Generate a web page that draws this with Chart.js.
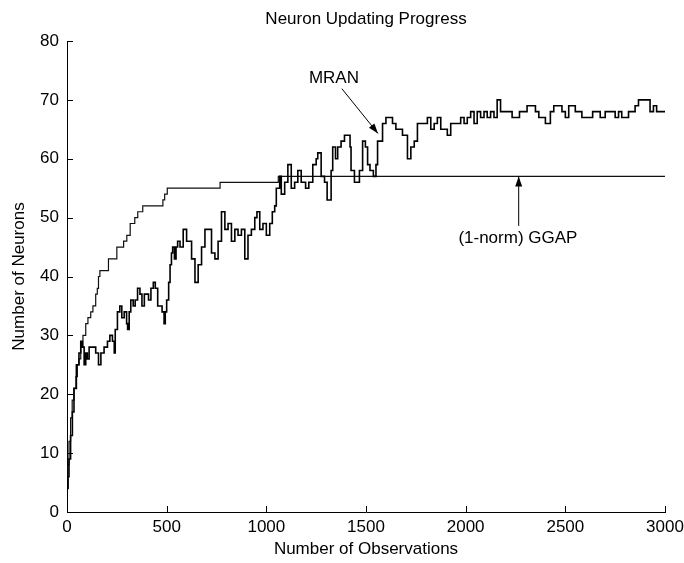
<!DOCTYPE html>
<html><head><meta charset="utf-8">
<script src="https://cdn.jsdelivr.net/npm/chart.js@4.4.1/dist/chart.umd.min.js"></script>
<style>html,body{margin:0;padding:0;background:#fff;}#wrap{width:684px;height:563px;}</style>
</head><body><div id="wrap"><canvas id="c" width="684" height="563"></canvas></div>
<script>
const chartTitle = "Neuron Updating Progress";
const xTitle = "Number of Observations";
const yTitle = "Number of Neurons";
const seriesNames = ["MRAN", "(1-norm) GGAP"];

const ggapX = [0,5,10,18,26,35,45,52,60,69,80,94,105,119,130,144,152,158,165,208,250,284,300,317,340,355,380,481,490,503,768,1060,3000];
const ggapY = [4,8,12,16,19,21,23,25,26,28,30,32,33,34,35,37,38,40,41,43,45,46,47,49,50,51,52,53,54,55,56,57,57];

const mranX = [0,5,10,18,27,35,47,60,69,77,86,94,102,111,128,144,158,170,186,203,215,228,237,242,253,265,275,287,299,304,312,320,332,342,354,366,376,388,399,409,421,433,443,455,466,477,487,493,500,510,517,524,530,539,547,555,567,583,600,625,642,658,675,692,708,725,742,758,775,792,808,825,842,858,875,892,908,925,942,953,967,983,1000,1017,1030,1042,1050,1067,1075,1092,1108,1125,1142,1158,1175,1197,1213,1233,1250,1258,1275,1292,1305,1325,1333,1347,1358,1375,1392,1408,1420,1425,1442,1453,1467,1483,1497,1508,1520,1537,1550,1558,1583,1600,1617,1633,1650,1667,1683,1700,1708,1725,1742,1758,1775,1792,1808,1825,1842,1858,1875,1892,1908,1925,1942,1958,1975,1992,2008,2025,2042,2058,2075,2092,2108,2125,2142,2158,2175,2192,2208,2233,2267,2270,2308,2317,2325,2350,2367,2383,2400,2413,2425,2442,2467,2483,2500,2517,2533,2550,2567,2583,2600,2617,2637,2658,2675,2700,2725,2750,2767,2783,2797,2817,2833,2850,2867,2875,2892,2908,2925,2942,2958,2975,3000];
const mranY = [4,6,9,13,17,21,25,27,29,28,25,27,26,28,28,27,25,27,28,29,30,29,27,31,34,35,33,34,32,31,34,36,35,36,38,37,35,37,37,36,38,39,38,35,35,34,32,34,36,39,42,44,45,43,45,46,45,48,46,43,39,42,45,48,48,44,43,46,51,48,49,46,48,47,48,43,47,48,50,51,48,49,47,49,51,52,55,57,54,56,59,55,56,58,56,55,56,59,60,61,57,56,53,58,62,60,62,63,64,64,62,58,56,56,58,63,62,59,58,57,59,63,66,67,67,66,65,65,64,64,60,62,63,66,66,66,67,65,66,67,65,65,64,66,66,66,67,66,67,68,66,68,67,68,67,68,67,70,68,68,68,67,67,68,69,69,69,68,67,67,66,66,68,69,69,68,67,69,69,68,68,67,67,67,68,68,67,68,68,67,68,67,67,68,68,69,70,70,70,70,68,69,68,68,68];

const xMin = 0, xMax = 3000, xStep = 500;
const yMin = 0, yMax = 80, yStep = 10;

// annotation anchors in data units
const mranLabelAt = [1339, 73.6];
const mranArrowFrom = [1379, 71.9];
const mranArrowTo = [1560, 64.3];
const ggapLabelAt = [2262, 46.5];
const ggapArrowFrom = [2266, 48.6];
const ggapArrowTo = [2266, 57];

const FONT = "'Liberation Sans', Arial, sans-serif";
const FS = 17;

function pts(xs, ys){ return xs.map((x,i)=>({x:x, y:ys[i]})); }

function arrow(ctx, x1, y1, x2, y2){
  ctx.beginPath(); ctx.moveTo(x1,y1); ctx.lineTo(x2,y2); ctx.stroke();
  const a = Math.atan2(y2-y1, x2-x1), L = 10, W = 3.5;
  const bx = x2 - L*Math.cos(a), by = y2 - L*Math.sin(a);
  ctx.beginPath();
  ctx.moveTo(x2,y2);
  ctx.lineTo(bx + W*Math.sin(a), by - W*Math.cos(a));
  ctx.lineTo(bx - W*Math.sin(a), by + W*Math.cos(a));
  ctx.closePath(); ctx.fill();
}

const extras = {
  id: 'extras',
  afterDraw(chart){
    const ctx = chart.ctx, xs = chart.scales.x, ys = chart.scales.y, ca = chart.chartArea;
    ctx.save();
    ctx.strokeStyle = '#000'; ctx.fillStyle = '#000'; ctx.lineWidth = 1;
    xs.ticks.forEach(t=>{ const p = Math.round(xs.getPixelForValue(t.value))+0.5;
      ctx.beginPath(); ctx.moveTo(p, ca.bottom); ctx.lineTo(p, ca.bottom-6); ctx.stroke(); });
    ys.ticks.forEach(t=>{ const p = Math.round(ys.getPixelForValue(t.value))+0.5;
      ctx.beginPath(); ctx.moveTo(ca.left, p); ctx.lineTo(ca.left+6, p); ctx.stroke(); });
    ctx.font = FS + 'px ' + FONT; ctx.textAlign = 'center'; ctx.textBaseline = 'middle';
    ctx.fillText(chartTitle, (ca.left+ca.right)/2, 19);
    ctx.fillText(seriesNames[0], xs.getPixelForValue(mranLabelAt[0]), ys.getPixelForValue(mranLabelAt[1]));
    ctx.fillText(seriesNames[1], xs.getPixelForValue(ggapLabelAt[0]), ys.getPixelForValue(ggapLabelAt[1]));
    arrow(ctx, xs.getPixelForValue(mranArrowFrom[0]), ys.getPixelForValue(mranArrowFrom[1]),
               xs.getPixelForValue(mranArrowTo[0]), ys.getPixelForValue(mranArrowTo[1]));
    arrow(ctx, xs.getPixelForValue(ggapArrowFrom[0]), ys.getPixelForValue(ggapArrowFrom[1]),
               xs.getPixelForValue(ggapArrowTo[0]), ys.getPixelForValue(ggapArrowTo[1]));
    ctx.restore();
  }
};

new Chart(document.getElementById('c'), {
  type: 'scatter',
  data: { datasets: [
    { label: seriesNames[0], data: pts(mranX, mranY), showLine: true, stepped: true,
      borderColor: '#000', borderWidth: 1.6, pointRadius: 0, fill: false },
    { label: seriesNames[1], data: pts(ggapX, ggapY), showLine: true, stepped: true,
      borderColor: '#111', borderWidth: 1.2, pointRadius: 0, fill: false }
  ]},
  options: {
    responsive: false, animation: false, devicePixelRatio: 1,
    layout: { padding: { top: 41, right: 19, left: 0, bottom: 0 } },
    plugins: { legend: { display: false }, tooltip: { enabled: false }, title: { display: false } },
    scales: {
      x: { type: 'linear', min: xMin, max: xMax,
        afterFit(s){ s.height = 51; s.paddingLeft = 0; s.paddingRight = 0; },
        ticks: { stepSize: xStep, color: '#000', padding: 5, maxRotation: 0,
          callback: v => String(v), font: { family: FONT, size: FS } },
        grid: { display: true, drawOnChartArea: false, drawTicks: false },
        border: { display: true, color: '#000', width: 1 },
        title: { display: true, text: xTitle, color: '#000', padding: { top: 0, bottom: 3 }, font: { family: FONT, size: FS } } },
      y: { type: 'linear', min: yMin, max: yMax,
        afterFit(s){ s.width = 67; s.paddingTop = 0; s.paddingBottom = 0; },
        ticks: { stepSize: yStep, color: '#000', padding: 8, font: { family: FONT, size: FS } },
        grid: { display: true, drawOnChartArea: false, drawTicks: false },
        border: { display: true, color: '#000', width: 1 },
        title: { display: true, text: yTitle, color: '#000', padding: { top: 9, bottom: 0 }, font: { family: FONT, size: FS } } }
    }
  },
  plugins: [extras]
});
</script></body></html>
